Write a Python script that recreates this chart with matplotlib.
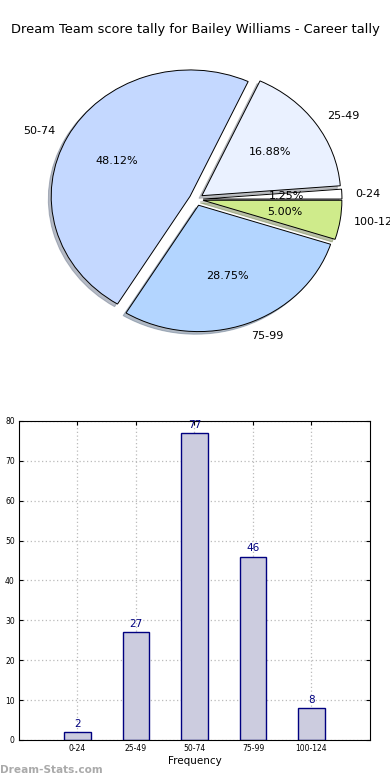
import matplotlib.pyplot as plt

labels = ['0-24', '25-49', '50-74', '75-99', '100-124']
counts = [2, 27, 77, 46, 8]
pie_colors = ['#ffffff', '#eaf1ff', '#c4d8ff', '#b3d5ff', '#cfeb8b']
explode = [0.05, 0.05, 0.05, 0.05, 0.05]


def plot_tally():
    fig = plt.figure(figsize=(3.9, 7.8), dpi=100)
    fig.text(0.5, 1 - 30 / 780., 'Dream Team score tally for Bailey Williams - Career tally',
             ha='center', va='center', fontsize=9.4)

    # pie, old style (not equal aspect)
    ax1 = fig.add_axes([0.058, 0.542, 0.89, 0.405])
    wedges, texts, autotexts = ax1.pie(counts, labels=labels, colors=pie_colors,
                                       explode=explode,
                                       shadow={'ox': -0.015, 'oy': -0.015, 'shade': 0.45},
                                       autopct='%1.2f%%',
                                       startangle=0, labeldistance=1.1,
                                       wedgeprops={'linewidth': 0.7, 'edgecolor': 'k'},
                                       textprops={'fontsize': 8})
    ax1.set_aspect('auto')
    ax1.set_xlim(-1.25, 1.25)
    ax1.set_ylim(-1.25, 1.25)
    ax1.axis('off')

    # bar chart
    ax2 = fig.add_axes([0.0487, 0.0513, 0.9, 0.409])
    xs = range(len(counts))
    ax2.bar(xs, counts, width=0.45, color='#ccccdf', edgecolor='navy', linewidth=1, zorder=2)
    for x, c in zip(xs, counts):
        ax2.text(x, c + 0.8, str(c), ha='center', va='bottom', color='navy', fontsize=7.5)
    ax2.set_xlim(-1, 5)
    ax2.set_ylim(0, 80)
    ax2.set_xticks(list(xs))
    ax2.set_xticklabels(labels)
    ax2.set_yticks(range(0, 81, 10))
    ax2.tick_params(labelsize=5.5, direction='in', top=True, right=True, length=3, pad=3)
    ax2.grid(True, linestyle=(0, (1, 2)), color='#bbbbbb', linewidth=0.9, zorder=3)
    ax2.set_xlabel('Frequency', fontsize=7.5, labelpad=2)

    fig.text(0.0, 1 - 770 / 780., 'Dream-Stats.com', color='#aaaaaa', fontsize=7.6,
             fontweight='bold', ha='left', va='center')

    plt.savefig('out.png', dpi=100)


if __name__ == '__main__':
    plot_tally()
